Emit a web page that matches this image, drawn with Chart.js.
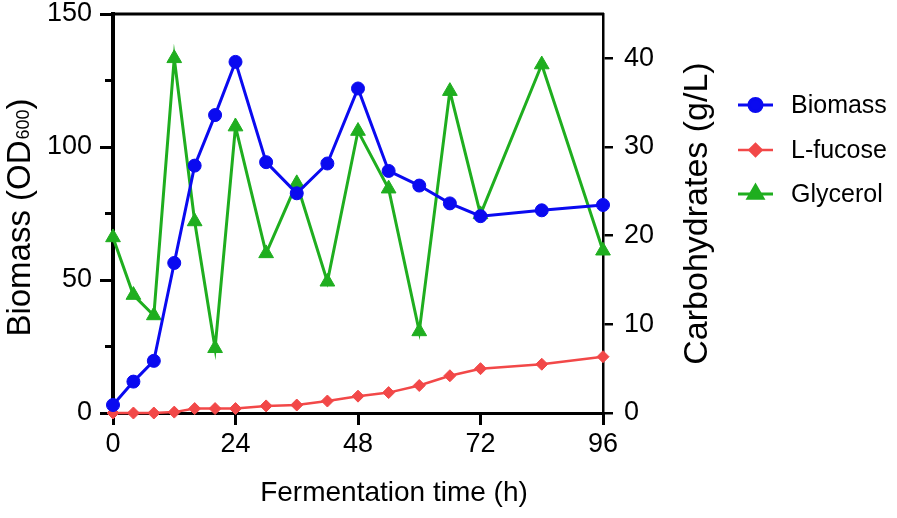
<!DOCTYPE html>
<html>
<head>
<meta charset="utf-8">
<script src="https://cdn.jsdelivr.net/npm/chart.js@4.4.0/dist/chart.umd.min.js"></script>
<style>
  html, body { margin: 0; padding: 0; background: #fff; }
</style>
</head>
<body>
<canvas id="chart" width="897" height="518"></canvas>
<script>
// fermentation data
const hours = [0, 4, 8, 12, 16, 20, 24, 30, 36, 42, 48, 54, 60, 66, 72, 84, 96];
const biomass = [3, 11.8, 19.6, 56.4, 93, 112, 132, 94.3, 82.6, 93.8, 122, 91, 85.5, 78.8, 74, 76.2, 78.2];
const fucose = [0, 0, 0, 0.1, 0.5, 0.5, 0.5, 0.8, 0.9, 1.35, 1.9, 2.3, 3.1, 4.2, 5.0, 5.5, 6.35];
const glycerol = [19.8, 13.3, 11.0, 40.0, 21.6, 7.3, 32.3, 18.0, 25.9, 14.8, 31.8, 25.3, 9.2, 36.3, 22.4, 39.3, 18.3];

const xTicks = [0, 24, 48, 72, 96];
const leftTicks = [0, 50, 100, 150];
const leftMinor = [25, 75, 125];
const rightTicks = [0, 10, 20, 30, 40];

const FONT = "'Liberation Sans', Arial, sans-serif";
const BLUE = '#0a0af0';
const RED = '#f24848';
const GREEN = '#1fae1f';

function pts(values) {
  return hours.map((h, i) => ({ x: h, y: values[i] }));
}

const seriesInfo = [
  { label: 'Biomass', color: BLUE, style: 'circle', radius: 6.5, width: 3 },
  { label: 'L-fucose', color: RED, style: 'rectRot', radius: 6, width: 2.5 },
  { label: 'Glycerol', color: GREEN, style: 'triangle', radius: 8.5, width: 3 }
];

// axis titles, top frame line, minor ticks and legend
const decor = {
  id: 'decor',
  afterDraw(chart) {
    const ctx = chart.ctx;
    const area = chart.chartArea;
    const yl = chart.scales.y;
    const cy = (area.top + area.bottom) / 2;

    ctx.save();
    ctx.strokeStyle = '#000';
    ctx.lineWidth = 3;
    ctx.beginPath();
    ctx.moveTo(area.left - 2, area.top);
    ctx.lineTo(area.right + 1, area.top);
    ctx.stroke();

    ctx.lineWidth = 3;
    leftMinor.forEach(v => {
      const y = yl.getPixelForValue(v);
      ctx.beginPath();
      ctx.moveTo(area.left - 8, y);
      ctx.lineTo(area.left, y);
      ctx.stroke();
    });

    ctx.fillStyle = '#000';
    ctx.textBaseline = 'middle';

    // left title with subscript
    ctx.save();
    ctx.translate(21, cy + 4);
    ctx.rotate(-Math.PI / 2);
    const big = '33px ' + FONT, small = '18px ' + FONT;
    ctx.font = big;
    const w1 = ctx.measureText('Biomass (OD').width;
    const w3 = ctx.measureText(')').width;
    ctx.font = small;
    const w2 = ctx.measureText('600').width + 1;
    let x0 = -(w1 + w2 + w3) / 2;
    ctx.textAlign = 'left';
    ctx.font = big;
    ctx.fillText('Biomass (OD', x0, 0);
    ctx.font = small;
    ctx.fillText('600', x0 + w1 + 1, 3);
    ctx.font = big;
    ctx.fillText(')', x0 + w1 + w2, 0);
    ctx.restore();

    // right title
    ctx.save();
    ctx.translate(698, cy);
    ctx.rotate(-Math.PI / 2);
    ctx.textAlign = 'center';
    ctx.font = '34px ' + FONT;
    ctx.fillText('Carbohydrates (g/L)', 0, 0);
    ctx.restore();

    // x title
    ctx.textAlign = 'center';
    ctx.font = '28px ' + FONT;
    ctx.fillText('Fermentation time (h)', 394, 493);

    // legend
    const rows = [105, 150, 194];
    seriesInfo.forEach((s, i) => {
      const y = rows[i];
      ctx.strokeStyle = s.color;
      ctx.lineWidth = s.width;
      ctx.beginPath();
      ctx.moveTo(738, y);
      ctx.lineTo(773, y);
      ctx.stroke();
      ctx.fillStyle = s.color;
      Chart.helpers.drawPoint(ctx, { pointStyle: s.style, radius: s.radius, rotation: 0, borderWidth: 1 }, 755.5, y);
      ctx.fillStyle = '#000';
      ctx.textAlign = 'left';
      ctx.font = '25px ' + FONT;
      ctx.fillText(s.label, 791, y + 1);
    });
    ctx.restore();
  }
};

const tickFont = { family: FONT, size: 27 };

function fitY(width) {
  return s => { s.width = width; s.paddingTop = 0; s.paddingBottom = 0; };
}

new Chart(document.getElementById('chart').getContext('2d'), {
  type: 'line',
  data: {
    datasets: [
      { label: 'Biomass', data: pts(biomass), yAxisID: 'y' },
      { label: 'L-fucose', data: pts(fucose), yAxisID: 'y2' },
      { label: 'Glycerol', data: pts(glycerol), yAxisID: 'y2' }
    ].map((d, i) => Object.assign(d, {
      borderColor: seriesInfo[i].color,
      backgroundColor: seriesInfo[i].color,
      pointBackgroundColor: seriesInfo[i].color,
      pointBorderColor: seriesInfo[i].color,
      pointStyle: seriesInfo[i].style,
      pointRadius: seriesInfo[i].radius,
      pointBorderWidth: 1,
      borderWidth: seriesInfo[i].width,
      tension: 0,
      fill: false,
      clip: false
    }))
  },
  options: {
    responsive: false,
    animation: false,
    layout: { padding: { top: 14, left: 0, right: 184, bottom: 0 } },
    plugins: { legend: { display: false }, tooltip: { enabled: false } },
    scales: {
      x: {
        type: 'linear', min: 0, max: 96,
        afterBuildTicks: s => { s.ticks = xTicks.map(v => ({ value: v })); },
        afterFit: s => { s.height = 105; s.paddingLeft = 0; s.paddingRight = 0; },
        grid: { drawOnChartArea: false, color: '#000', lineWidth: 3, tickLength: 12 },
        border: { color: '#000', width: 3 },
        ticks: { color: '#000', font: tickFont, padding: 3, maxRotation: 0 }
      },
      y: {
        position: 'left', min: 0, max: 150,
        afterBuildTicks: s => { s.ticks = leftTicks.map(v => ({ value: v })); },
        afterFit: fitY(113),
        grid: { drawOnChartArea: false, color: '#000', lineWidth: 3, tickLength: 13 },
        border: { color: '#000', width: 4 },
        ticks: { color: '#000', font: tickFont, padding: 8 }
      },
      y2: {
        position: 'right', min: 0, max: 45,
        afterBuildTicks: s => { s.ticks = rightTicks.map(v => ({ value: v })); },
        afterFit: fitY(110),
        grid: { drawOnChartArea: false, color: '#000', lineWidth: 2.5, tickLength: 10 },
        border: { color: '#000', width: 2.5 },
        ticks: { color: '#000', font: tickFont, padding: 11 }
      }
    }
  },
  plugins: [decor]
});
</script>
</body>
</html>
